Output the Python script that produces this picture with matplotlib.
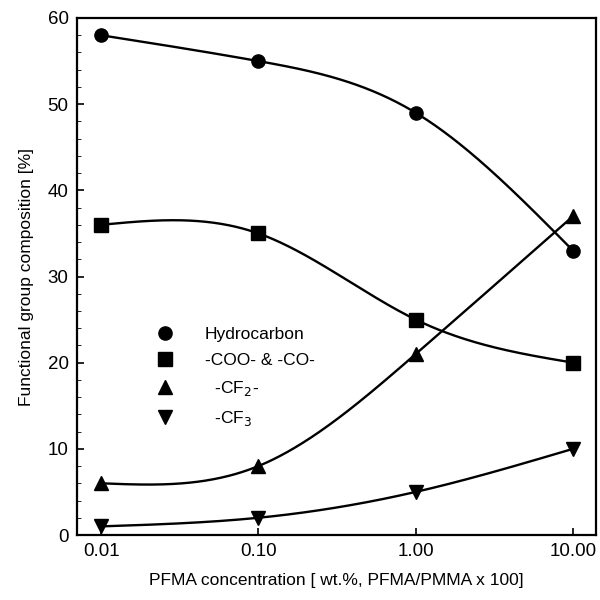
import numpy as np
import matplotlib
matplotlib.use("Agg")
import matplotlib.pyplot as plt
from matplotlib.lines import Line2D

plt.rcParams['font.family'] = ['Liberation Sans', 'DejaVu Sans']

conc = [0.01, 0.10, 1.00, 10.00]
tick_labels = ["0.01", "0.10", "1.00", "10.00"]
hydrocarbon = [58, 55, 49, 33]
coo_co = [36, 35, 25, 20]
cf2 = [6, 8, 21, 37]
cf3 = [1, 2, 5, 10]

series = [
    ("Hydrocarbon", hydrocarbon, "o"),
    ("-COO- & -CO-", coo_co, "s"),
    ("  -CF$_2$-", cf2, "^"),
    ("  -CF$_3$", cf3, "v"),
]


def natural_spline(x, y, xs):
    x = np.asarray(x, float); y = np.asarray(y, float)
    n = len(x)
    h = np.diff(x)
    A = np.zeros((n, n)); b = np.zeros(n)
    A[0, 0] = 1; A[-1, -1] = 1
    for i in range(1, n - 1):
        A[i, i - 1] = h[i - 1]
        A[i, i] = 2 * (h[i - 1] + h[i])
        A[i, i + 1] = h[i]
        b[i] = 3 * ((y[i + 1] - y[i]) / h[i] - (y[i] - y[i - 1]) / h[i - 1])
    c = np.linalg.solve(A, b)
    out = np.empty_like(xs)
    for k, xv in enumerate(xs):
        i = min(max(np.searchsorted(x, xv) - 1, 0), n - 2)
        bi = (y[i + 1] - y[i]) / h[i] - h[i] * (2 * c[i] + c[i + 1]) / 3
        di = (c[i + 1] - c[i]) / (3 * h[i])
        t = xv - x[i]
        out[k] = y[i] + bi * t + c[i] * t ** 2 + di * t ** 3
    return out


fig = plt.figure(figsize=(6, 6), dpi=100)
ax = fig.add_axes([77 / 600, 1 - 535 / 600, (596 - 77) / 600, (535 - 18) / 600])

lx = np.log10(conc)
xs = np.linspace(lx[0], lx[-1], 300)
handles = []
for label, vals, m in series:
    ys = natural_spline(lx, vals, xs)
    ax.plot(10 ** xs, ys, color='black', lw=1.7)
    ax.plot(conc, vals, linestyle='none', marker=m, color='black', markersize=9.5)
    handles.append(Line2D([], [], linestyle='none', marker=m, color='black', markersize=9.5, label=label))

ax.set_xscale('log')
ax.set_xlim(10 ** -2.153, 10 ** 1.146)
ax.set_ylim(0, 60)
ax.set_xticks(conc)
ax.set_xticklabels(tick_labels)
ax.xaxis.set_minor_locator(matplotlib.ticker.NullLocator())
ax.set_yticks([0, 10, 20, 30, 40, 50, 60])
ax.yaxis.set_minor_locator(matplotlib.ticker.MultipleLocator(2))
ax.tick_params(direction='in', labelsize=13.5, width=1.2, length=5, pad=6)
ax.tick_params(which='minor', direction='in', length=3)
for s in ax.spines.values():
    s.set_linewidth(1.6)

ax.set_xlabel("PFMA concentration [ wt.%, PFMA/PMMA x 100]", fontsize=12.5, labelpad=9)
ax.set_ylabel("Functional group composition [%]", fontsize=12.5, labelpad=10)

ax.legend(handles=handles, loc='upper left', bbox_to_anchor=(0.119, 0.419), frameon=False,
          fontsize=12.5, handletextpad=1.3, labelspacing=0.62, borderpad=0)

fig.savefig("out.png", dpi=100)
